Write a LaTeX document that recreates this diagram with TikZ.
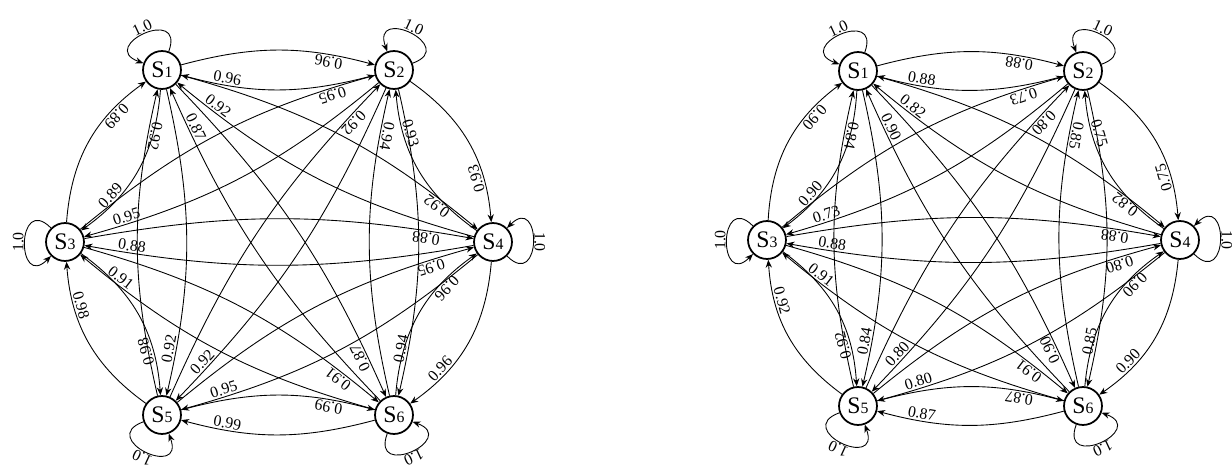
\documentclass[tikz,border=0pt]{standalone}
\usepackage{fontspec}
\setmainfont{Liberation Serif}
\usetikzlibrary{arrows.meta}
\newcommand{\sname}[1]{{\fontsize{13.5}{14}\selectfont S}{\fontsize{9}{9}\selectfont #1}}

\begin{document}
\begin{tikzpicture}[>={Stealth[length=4.5pt,width=3.6pt]},
  every node/.style={font=\fontsize{9}{10}\selectfont},
  st/.style={circle, draw, line width=1pt, minimum size=21.6pt, inner sep=0pt},
  arc/.style={<-, line width=0.5pt},
  wt/.style={sloped, allow upside down, above, inner sep=0.8pt},
  selfloop/.style={->, line width=0.5pt, looseness=4.5}]
\useasboundingbox (0,0) rectangle (24.64,9.46);

% States, left graph
\node[st] (a1) at (3.24,8.06) {\sname{1}};
\node[st] (a2) at (7.88,8.06) {\sname{2}};
\node[st] (a3) at (1.30,4.62) {\sname{3}};
\node[st] (a4) at (9.86,4.62) {\sname{4}};
\node[st] (a5) at (3.24,1.16) {\sname{5}};
\node[st] (a6) at (7.88,1.16) {\sname{6}};

% States, right graph
\node[st] (b1) at (17.16,8.04) {\sname{1}};
\node[st] (b2) at (21.66,8.04) {\sname{2}};
\node[st] (b3) at (15.34,4.66) {\sname{3}};
\node[st] (b4) at (23.60,4.66) {\sname{4}};
\node[st] (b5) at (17.16,1.34) {\sname{5}};
\node[st] (b6) at (21.66,1.34) {\sname{6}};

% Transitions, left graph (label near the arrow tip)
\foreach \ia/\ib/\w/\ps/\bn in {1/2/0.96/0.22/15, 1/3/0.89/0.26/25, 1/4/0.92/0.125/12,
    1/5/0.92/0.137/13, 1/6/0.87/0.11/10, 2/3/0.95/0.125/12, 2/4/0.93/0.26/25,
    2/5/0.92/0.11/10, 2/6/0.94/0.137/13, 3/4/0.88/0.108/10, 3/5/0.98/0.26/25,
    3/6/0.91/0.125/12, 4/5/0.95/0.125/12, 4/6/0.96/0.26/25, 5/6/0.99/0.22/15} {
  \draw[arc] (a\ib) to[bend right=\bn] node[wt, pos=\ps] {\w} (a\ia);
  \draw[arc] (a\ia) to[bend right=\bn] node[wt, pos=\ps] {\w} (a\ib);
}

% Transitions, right graph
\foreach \ia/\ib/\w/\ps/\bn in {1/2/0.88/0.22/15, 1/3/0.90/0.26/25, 1/4/0.82/0.125/12,
    1/5/0.84/0.137/13, 1/6/0.90/0.11/10, 2/3/0.73/0.125/12, 2/4/0.75/0.26/25,
    2/5/0.80/0.11/10, 2/6/0.85/0.137/13, 3/4/0.88/0.108/10, 3/5/0.92/0.26/25,
    3/6/0.91/0.125/12, 4/5/0.80/0.125/12, 4/6/0.90/0.26/25, 5/6/0.87/0.22/15} {
  \draw[arc] (b\ib) to[bend right=\bn] node[wt, pos=\ps] {\w} (b\ia);
  \draw[arc] (b\ia) to[bend right=\bn] node[wt, pos=\ps] {\w} (b\ib);
}

% Self-loops, pointing away from the middle
\foreach \g in {a,b}
  \foreach \i/\ang in {1/115, 2/65, 3/180, 4/0, 5/245, 6/295} {
    \pgfmathtruncatemacro\lo{mod(\ang+315,360)}
    \pgfmathtruncatemacro\li{mod(\ang+45,360)}
    \draw[selfloop] (\g\i) to[out=\lo, in=\li]
      node[pos=0.5, rotate=\ang-90, anchor=south, inner sep=0.5pt] {1.0} (\g\i);
  }
\end{tikzpicture}
\end{document}
